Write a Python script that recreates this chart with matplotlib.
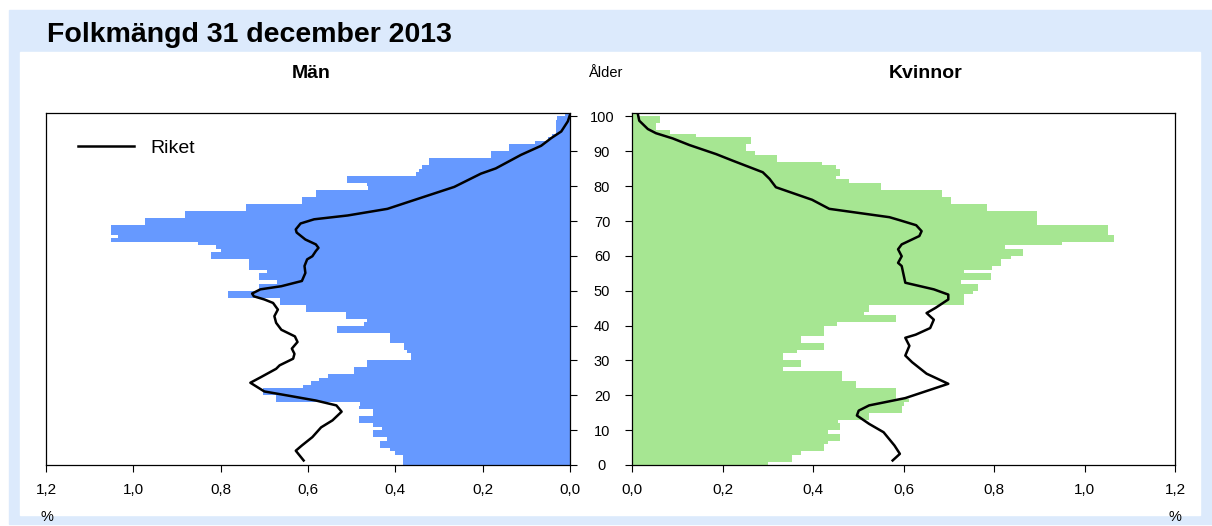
import numpy as np
import matplotlib
matplotlib.use("Agg")
import matplotlib.pyplot as plt
from matplotlib.patches import Rectangle

plt.rcParams['font.family'] = ['Liberation Sans', 'DejaVu Sans']

# andel av befolkningen (%) per ålder 0..100
ages = list(range(0, 101))

man = [0.383, 0.383, 0.383, 0.40, 0.413, 0.434, 0.434, 0.42, 0.452, 0.452,
       0.43, 0.452, 0.484, 0.484, 0.452, 0.452, 0.484, 0.48, 0.673, 0.673,
       0.702, 0.702, 0.612, 0.594, 0.574, 0.555, 0.494, 0.494, 0.464, 0.464,
       0.364, 0.364, 0.373, 0.381, 0.381, 0.413, 0.413, 0.413, 0.533, 0.533,
       0.472, 0.464, 0.512, 0.512, 0.604, 0.604, 0.664, 0.664, 0.783, 0.783,
       0.712, 0.712, 0.672, 0.712, 0.712, 0.694, 0.734, 0.734, 0.734, 0.821,
       0.821, 0.80, 0.811, 0.853, 1.052, 1.034, 1.052, 1.052, 1.052, 0.973,
       0.973, 0.882, 0.882, 0.742, 0.742, 0.613, 0.613, 0.582, 0.582, 0.462,
       0.464, 0.511, 0.511, 0.353, 0.345, 0.34, 0.322, 0.322, 0.181, 0.181,
       0.14, 0.14, 0.081, 0.05, 0.041, 0.031, 0.031, 0.031, 0.031, 0.03,
       0.011]

kvinnor = [0.30, 0.354, 0.354, 0.374, 0.424, 0.424, 0.433, 0.46, 0.46, 0.433,
           0.46, 0.46, 0.455, 0.524, 0.524, 0.596, 0.596, 0.60, 0.613, 0.584,
           0.584, 0.584, 0.494, 0.494, 0.463, 0.463, 0.463, 0.334, 0.374, 0.374,
           0.334, 0.334, 0.365, 0.424, 0.424, 0.374, 0.374, 0.424, 0.424, 0.424,
           0.453, 0.584, 0.584, 0.513, 0.524, 0.524, 0.734, 0.734, 0.734, 0.754,
           0.764, 0.764, 0.726, 0.794, 0.794, 0.733, 0.795, 0.816, 0.816, 0.837,
           0.865, 0.865, 0.825, 0.95, 1.065, 1.065, 1.053, 1.053, 1.053, 0.895,
           0.895, 0.895, 0.895, 0.784, 0.784, 0.705, 0.705, 0.685, 0.685, 0.551,
           0.551, 0.48, 0.45, 0.46, 0.46, 0.45, 0.42, 0.32, 0.32, 0.272,
           0.252, 0.252, 0.262, 0.262, 0.141, 0.083, 0.053, 0.053, 0.062, 0.062,
           0.015]

# Riket, avläst längs kurvan
riket_man_age = [1.3, 4.1, 5.6, 8.0, 10.8, 12.8, 15.3, 17.1, 18.5, 19.9, 21.1, 23.6,
                 25.2, 27.6, 28.6, 30.5, 31.9, 33.4, 35.3, 36.9, 38.8, 40.8, 42.7,
                 44.6, 46.5, 47.5, 48.4, 49.2, 50.4, 51.3, 52.8, 55.1, 57.1, 59.0,
                 59.9, 61.4, 62.3, 63.3, 64.7, 66.7, 67.6, 69.3, 70.5, 71.6, 73.5,
                 75.4, 79.8, 83.6, 85.1, 89.0, 91.6, 93.8, 95.7, 98.6, 100.5]
riket_man = [0.610, 0.628, 0.614, 0.590, 0.570, 0.544, 0.523, 0.535, 0.582, 0.645,
             0.700, 0.732, 0.708, 0.673, 0.665, 0.634, 0.631, 0.637, 0.624, 0.630,
             0.661, 0.673, 0.677, 0.669, 0.680, 0.700, 0.724, 0.728, 0.709, 0.661,
             0.614, 0.606, 0.608, 0.602, 0.590, 0.582, 0.576, 0.582, 0.606, 0.626,
             0.628, 0.617, 0.586, 0.509, 0.418, 0.372, 0.265, 0.204, 0.170, 0.112,
             0.066, 0.043, 0.020, 0.005, 0.0]

riket_kv_age = [1.3, 3.2, 5.6, 9.4, 11.8, 14.2, 15.6, 17.1, 19.2, 23.3, 26.2, 29.5,
                31.4, 34.2, 36.5, 37.4, 39.3, 41.7, 43.6, 45.1, 47.5, 48.9, 50.4,
                52.3, 54.7, 57.1, 58.0, 59.9, 61.9, 63.3, 65.7, 67.1, 68.8, 70.3,
                71.1, 73.5, 76.1, 79.7, 82.1, 84.0, 87.3, 89.2, 91.8, 93.7, 95.2,
                96.4, 98.8, 100.7]
riket_kv = [0.576, 0.592, 0.580, 0.556, 0.524, 0.497, 0.501, 0.524, 0.604, 0.699,
            0.651, 0.619, 0.604, 0.613, 0.604, 0.627, 0.659, 0.667, 0.651, 0.671,
            0.699, 0.699, 0.667, 0.604, 0.600, 0.596, 0.588, 0.596, 0.588, 0.596,
            0.635, 0.640, 0.628, 0.590, 0.569, 0.436, 0.398, 0.318, 0.304, 0.289,
            0.223, 0.186, 0.127, 0.090, 0.053, 0.035, 0.016, 0.013]

xticks = [0, 0.2, 0.4, 0.6, 0.8, 1.0, 1.2]
xlabels = ['0,0', '0,2', '0,4', '0,6', '0,8', '1,0', '1,2']
yticks = list(range(0, 101, 10))

blue = '#6699ff'
green = '#a6e692'
bg = '#dceafc'

W, H = 1212, 526
fig = plt.figure(figsize=(W / 100, H / 100), dpi=100)
fig.patch.set_facecolor('white')
fig.patches.append(Rectangle((9 / W, 1 - 524 / H), (W - 9) / W, (524 - 10) / H,
                             transform=fig.transFigure, color=bg, zorder=-2))
fig.patches.append(Rectangle((20 / W, 1 - 515 / H), 1180 / W, (515 - 52) / H,
                             transform=fig.transFigure, color='white', zorder=-1))

ax1 = fig.add_axes([46 / W, 1 - 465 / H, 524 / W, 352 / H])
ax2 = fig.add_axes([632 / W, 1 - 465 / H, 543 / W, 352 / H])

ax1.barh(ages, man, height=1.0, align='edge', color=blue, linewidth=0)
ax1.plot(riket_man, riket_man_age, color='black', lw=1.8, label='Riket',
         solid_joinstyle='round')
ax1.set_xlim(1.2, 0)
ax1.set_ylim(0, 101)

ax2.barh(ages, kvinnor, height=1.0, align='edge', color=green, linewidth=0)
ax2.plot(riket_kv, riket_kv_age, color='black', lw=1.8, solid_joinstyle='round')
ax2.set_xlim(0, 1.2)
ax2.set_ylim(0, 101)

for ax in (ax1, ax2):
    ax.set_facecolor('white')
    ax.set_xticks(xticks)
    ax.set_xticklabels(xlabels, fontsize=11)
    ax.tick_params(axis='x', direction='out', length=5, width=0.8, pad=8)
    ax.set_yticks(yticks)
    for s in ax.spines.values():
        s.set_linewidth(0.9)

ax1.yaxis.tick_right()
ax1.tick_params(axis='y', direction='out', length=5, width=0.8, pad=18, labelsize=10.5)
ax1.set_yticklabels([str(t) for t in yticks])
for lab in ax1.get_yticklabels():
    lab.set_horizontalalignment('center')
ax2.tick_params(axis='y', direction='out', length=5, width=0.8, labelleft=False)

ax1.legend(loc='center left', bbox_to_anchor=(0.061, 0.90), frameon=False,
           fontsize=14, handlelength=2.9, handletextpad=0.8, borderpad=0,
           borderaxespad=0)

fig.text(47 / W, 1 - 35 / H, 'Folkmängd 31 december 2013', fontsize=20.5,
         fontweight='bold', va='center', ha='left')
fig.text(311 / W, 1 - 73 / H, 'Män', fontsize=14, fontweight='bold', ha='center', va='center')
fig.text(605 / W, 1 - 73 / H, 'Ålder', fontsize=10.5, ha='center', va='center')
fig.text(926 / W, 1 - 73 / H, 'Kvinnor', fontsize=14, fontweight='bold', ha='center', va='center')
fig.text(47 / W, 1 - 517 / H, '%', fontsize=10.5, ha='center', va='center')
fig.text(1175 / W, 1 - 517 / H, '%', fontsize=10.5, ha='center', va='center')

fig.savefig('out.png', dpi=100, facecolor=fig.get_facecolor())
